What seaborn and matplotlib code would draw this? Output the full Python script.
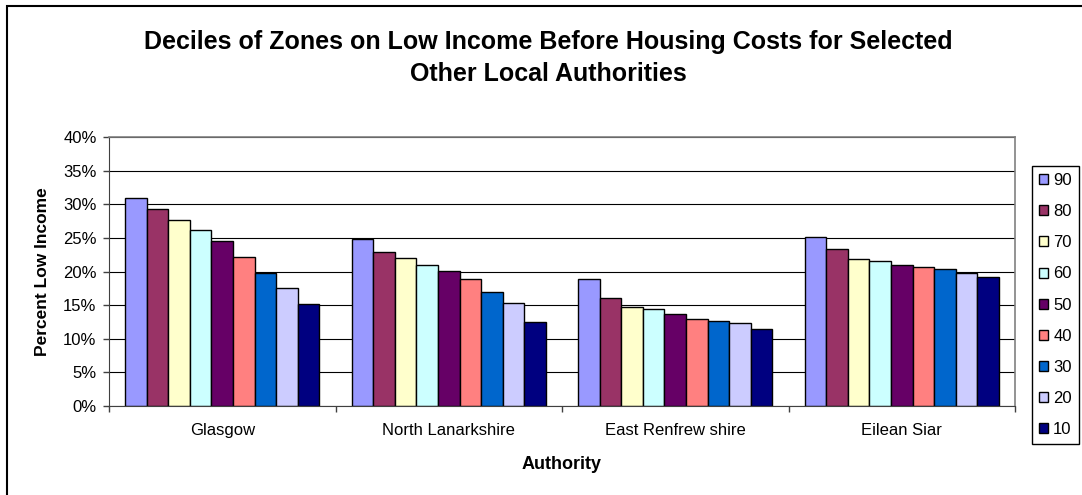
import matplotlib
matplotlib.use("Agg")
import matplotlib.pyplot as plt
from matplotlib.patches import Rectangle
from matplotlib.ticker import FixedLocator
import pandas as pd
import seaborn as sns

# Authorities on the x axis, deciles as the grouped series
authorities = ["Glasgow", "North Lanarkshire", "East Renfrew shire", "Eilean Siar"]
deciles = ["90", "80", "70", "60", "50", "40", "30", "20", "10"]

# Percent of zones on low income (before housing costs), one list per decile
pct_90 = [30.9, 24.8, 18.9, 25.1]
pct_80 = [29.3, 22.9, 16.1, 23.3]
pct_70 = [27.7, 22.0, 14.7, 21.8]
pct_60 = [26.2, 21.0, 14.4, 21.5]
pct_50 = [24.6, 20.1, 13.7, 21.0]
pct_40 = [22.2, 18.9, 12.9, 20.6]
pct_30 = [19.8, 17.0, 12.7, 20.3]
pct_20 = [17.5, 15.3, 12.3, 19.8]
pct_10 = [15.1, 12.5, 11.4, 19.2]

y_ticks = [0, 5, 10, 15, 20, 25, 30, 35, 40]

series = [pct_90, pct_80, pct_70, pct_60, pct_50, pct_40, pct_30, pct_20, pct_10]
colors = ["#9999FF", "#993366", "#FFFFCC", "#CCFFFF", "#660066",
          "#FF8080", "#0066CC", "#CCCCFF", "#000080"]

rows = []
for dec, vals in zip(deciles, series):
    for auth, v in zip(authorities, vals):
        rows.append({"Authority": auth, "Decile": dec, "Percent": v})
df = pd.DataFrame(rows)

plt.rcParams["font.family"] = ["Liberation Sans", "DejaVu Sans"]

W, H = 1082, 495
fig = plt.figure(figsize=(W / 100, H / 100), dpi=100)
fig.patch.set_facecolor("white")

L, R, T, B = 109, 1015, 137, 406
ax = fig.add_axes([L / W, 1 - B / H, (R - L) / W, (B - T) / H])

sns.barplot(data=df, x="Authority", y="Percent", hue="Decile",
            hue_order=deciles, order=authorities,
            palette=dict(zip(deciles, colors)), saturation=1, width=0.857,
            edgecolor="black", linewidth=1.0, errorbar=None, ax=ax)

ax.set_ylim(0, 40)
ax.set_xlim(-0.5, len(authorities) - 0.5)
ax.set_yticks(y_ticks)
ax.set_yticklabels([f"{t}%" for t in y_ticks], fontsize=12)
ax.tick_params(axis="y", length=4, width=1, pad=5, color="#404040")
ax.tick_params(axis="x", which="major", length=0, pad=12, labelsize=12)
ax.xaxis.set_minor_locator(FixedLocator([i - 0.5 for i in range(len(authorities) + 1)]))
ax.tick_params(axis="x", which="minor", length=4, width=1, color="#404040")

ax.yaxis.grid(True, color="black", linewidth=0.8)
ax.set_axisbelow(True)
for side in ("top", "right"):
    ax.spines[side].set_color("#808080")
    ax.spines[side].set_linewidth(1.2)
ax.spines["left"].set_color("#404040")
ax.spines["bottom"].set_color("#404040")

ax.set_ylabel("Percent Low Income", fontsize=12.5, fontweight="bold")
ax.yaxis.set_label_coords((50 - L) / (R - L), 0.5)
ax.set_xlabel("Authority", fontsize=13, fontweight="bold")
ax.xaxis.set_label_coords(0.5, (B - 456) / (B - T))

fig.text(548 / W, 1 - 42 / H,
         "Deciles of Zones on Low Income Before Housing Costs for Selected",
         ha="center", va="center", fontsize=18, fontweight="bold")
fig.text(548 / W, 1 - 74 / H, "Other Local Authorities",
         ha="center", va="center", fontsize=18, fontweight="bold")

handles, labels = ax.get_legend_handles_labels()
leg = ax.legend(handles, labels, loc="upper left",
                bbox_to_anchor=(1032 / W, 1 - 166 / H),
                bbox_transform=fig.transFigure, frameon=True, fancybox=False,
                edgecolor="black", framealpha=1, fontsize=12,
                handlelength=0.55, handleheight=0.55, handletextpad=0.3,
                labelspacing=0.97, borderpad=0.42, borderaxespad=0)
leg.get_frame().set_linewidth(1.0)
for h in leg.legend_handles:
    h.set_edgecolor("black")
    h.set_linewidth(1.0)

# chart-area frame
fig.patches.append(Rectangle((7 / W, -0.1), 1.2, 1.1 - 6 / H,
                             transform=fig.transFigure, fill=False,
                             edgecolor="black", linewidth=1.5))

fig.savefig("out.png", dpi=100)
